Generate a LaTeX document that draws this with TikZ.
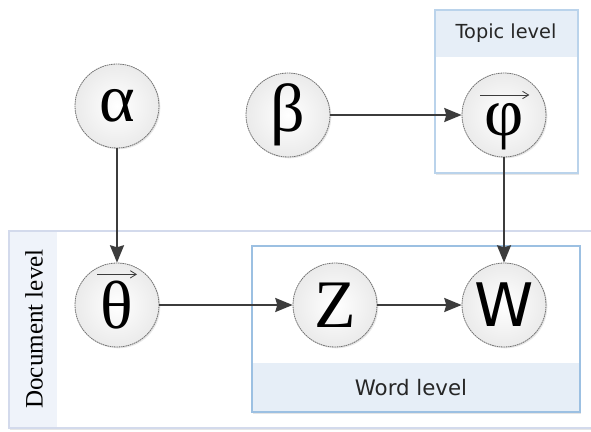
\documentclass[tikz,border=0pt]{standalone}
\usepackage{fontspec}
\setmainfont{Liberation Serif}
\newfontfamily\labelsans{DejaVu Sans}
\usetikzlibrary{arrows.meta,shadows}

\definecolor{edgegray}{HTML}{3C3C3C}
\definecolor{rimgray}{HTML}{707070}
\definecolor{bandblue}{HTML}{E6EEF7}
\definecolor{frameblue}{HTML}{9CC0E2}
\definecolor{docframe}{HTML}{D3DAEC}
\definecolor{docband}{HTML}{EFF3FA}

\tikzset{
  var/.style={circle, minimum size=63pt, inner sep=0pt, draw=rimgray,
    line width=0.6pt, dash pattern=on 1.2pt off 0.5pt,
    inner color=white, outer color=gray!16,
    drop shadow={opacity=0.18, shadow xshift=1pt, shadow yshift=-1pt},
    font=\fontsize{51}{51}\selectfont},
  link/.style={draw=edgegray, line width=1.4pt,
    -{Stealth[length=13pt,width=10.5pt,inset=1.5pt]}},
  vecbar/.style={draw=edgegray, line width=0.6pt,
    -{Straight Barb[length=4.5pt,width=5.5pt]}},
  framebox/.style={drop shadow={opacity=0.2, shadow xshift=1pt, shadow yshift=-1.2pt}},
  levellabel/.style={font=\labelsans\fontsize{14.5}{15}\selectfont, text=black!85},
}

\begin{document}
\begin{tikzpicture}[x=0.75pt,y=-0.75pt]
\useasboundingbox (0,0) rectangle (591,431);

% document plate
\path[framebox, fill=white] (9,231) rectangle (598,428);
\fill[docband] (9,231) rectangle (57,428);
\draw[docframe, line width=0.8pt] (9,231) rectangle (598,428);
\node[rotate=90, font=\fontsize{18.8}{19}\selectfont] (doclbl) at (34,329) {Document level};

% topic plate
\path[framebox, fill=white] (435,10) rectangle (578,173);
\fill[bandblue] (435,10) rectangle (578,57);
\draw[frameblue!70, line width=0.8pt] (435,10) rectangle (578,173);
\node[levellabel] (topiclbl) at (506,33) {Topic level};

% word plate
\path[framebox, fill=white] (252,246) rectangle (580,412);
\fill[bandblue] (252,363) rectangle (580,412);
\draw[frameblue, line width=0.8pt] (252,246) rectangle (580,412);
\node[levellabel, font=\labelsans\fontsize{16}{16}\selectfont] (wordlbl) at (411,388) {Word level};

% variables
\node[var] (alpha) at (117,106) {α};
\node[var] (beta)  at (288,115) {β};
\node[var] (phi)   at (504,115) {\raisebox{-9pt}{\smash{φ}}\vphantom{φ}};
\node[var] (theta) at (117,305) {θ};
\node[var] (Z)     at (335,305) {Z};
\node[var, font=\labelsans\fontsize{45}{45}\selectfont] (W) at (504,305) {W};

% vector marks
\draw[vecbar] ([xshift=-15pt, yshift=23pt]theta.center) -- ++(30pt,0);
\draw[vecbar] ([xshift=-18pt, yshift=15pt]phi.center) -- ++(37pt,0);

% dependencies
\draw[link] (alpha) -- (theta);
\draw[link] (beta) -- (phi);
\draw[link] (phi) -- (W);
\draw[link] (theta) -- (Z);
\draw[link] (Z) -- (W);
\end{tikzpicture}
\end{document}
